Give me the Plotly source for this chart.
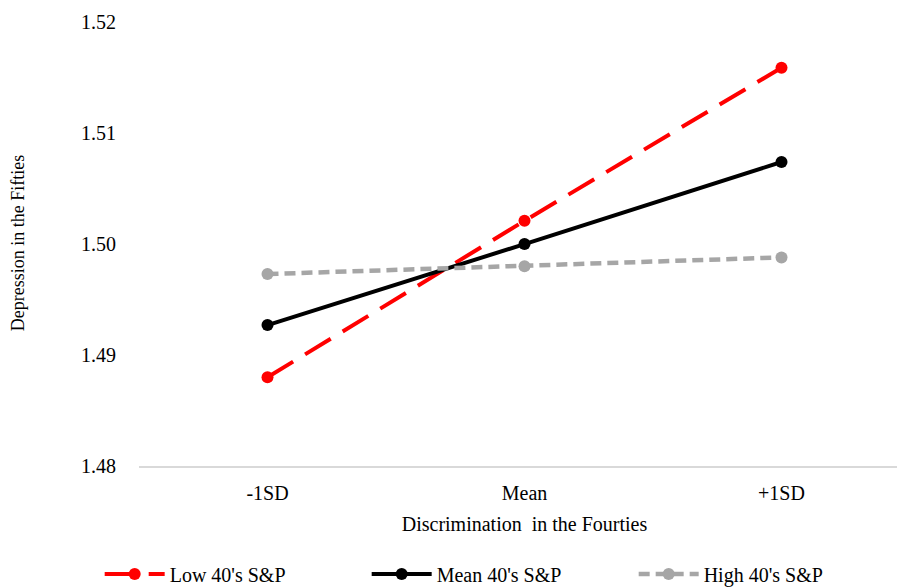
import plotly.graph_objects as go

categories = ["-1SD", "Mean", "+1SD"]
low_sp = [1.4880, 1.5021, 1.5159]
mean_sp = [1.4927, 1.5000, 1.5074]
high_sp = [1.4973, 1.4980, 1.4988]
y_ticks = [1.48, 1.49, 1.50, 1.51, 1.52]
y_tick_labels = ["1.48", "1.49", "1.50", "1.51", "1.52"]

font_family = "Liberation Serif, Times New Roman, serif"

fig = go.Figure()
fig.add_trace(go.Scatter(x=categories, y=low_sp, name="Low 40's S&P", mode="lines+markers",
                         line=dict(color="#ff0000", width=4, dash="30px,14px"),
                         marker=dict(size=12, color="#ff0000")))
fig.add_trace(go.Scatter(x=categories, y=mean_sp, name="Mean 40's S&P", mode="lines+markers",
                         line=dict(color="#000000", width=4),
                         marker=dict(size=12, color="#000000")))
fig.add_trace(go.Scatter(x=categories, y=high_sp, name="High 40's S&P", mode="lines+markers",
                         line=dict(color="#a6a6a6", width=4.5, dash="11px,6px"),
                         marker=dict(size=12, color="#a6a6a6")))

fig.update_layout(
    width=905, height=588,
    margin=dict(l=128, r=3, t=10, b=122),
    plot_bgcolor="white", paper_bgcolor="white",
    font=dict(family=font_family, size=20, color="#000000"),
    showlegend=True,
    legend=dict(orientation="h", x=-0.051, xanchor="left", y=-0.242, yanchor="middle",
                font=dict(size=20), entrywidth=192, entrywidthmode="pixels",
                itemwidth=60),
    xaxis=dict(title=dict(text="Discrimination  in the Fourties", font=dict(size=20), standoff=14),
               range=[-0.5, 2.5],
               showgrid=False, showline=True, linecolor="#d9d9d9", linewidth=1.5,
               ticks="", tickfont=dict(size=20), ticklabelstandoff=8, zeroline=False),
    yaxis=dict(title=dict(text="Depression in the Fifties", font=dict(size=18), standoff=57),
               range=[1.48, 1.5202], tickvals=y_ticks, ticktext=y_tick_labels,
               showgrid=False, showline=False, zeroline=False, ticks="",
               ticklabeloverflow="allow",
               ticklabelstandoff=22, tickfont=dict(size=20)),
)

fig.write_html("out.html")
